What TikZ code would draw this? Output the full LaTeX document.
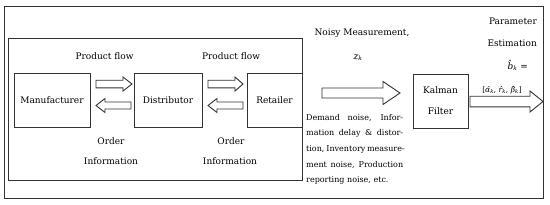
\documentclass[tikz,border=0pt]{standalone}
\usepackage{fontspec}
\setmainfont{DejaVu Serif}
\definecolor{ln}{HTML}{333333}
\newcommand\bkarrow[6]{% tail x, head-base x, tip x, centre y, shaft half, head half
  \draw[blk] (#1,#4-#5) -- (#2,#4-#5) -- (#2,#4-#6) -- (#3,#4) -- (#2,#4+#6)
    -- (#2,#4+#5) -- (#1,#4+#5) -- cycle;}
\begin{document}
\begin{tikzpicture}[x=1pt,y=-1pt,
  frame/.style={draw=ln, line width=0.9pt},
  box/.style={draw=ln, line width=0.9pt, inner sep=0pt, font=\fontsize{9}{21}\selectfont, align=center, text=black},
  blk/.style={draw=ln, line width=0.9pt, fill=white, line join=miter},
  lbl/.style={inner sep=0pt, font=\fontsize{9}{11}\selectfont, text=black},
  small/.style={inner sep=0pt, font=\fontsize{8}{9}\selectfont, text=black}]
\useasboundingbox (0,0) rectangle (550,204);
% frames
\draw[frame] (4.5,6) rectangle (543,198);
\draw[frame] (8,38) rectangle (302,180);
% boxes
\node[box, minimum width=76pt, minimum height=54pt] (man) at (52,100) {Manufacturer};
\node[box, minimum width=68pt, minimum height=54pt] (dis) at (168,100) {Distributor};
\node[box, minimum width=55pt, minimum height=54pt] (ret) at (274.5,100) {Retailer};
\node[box, minimum width=55pt, minimum height=54pt] (kal) at (440.5,101) {Kalman\\Filter};
% small flow arrows
\bkarrow{96}{123}{132}{84}{3.8}{7}
\bkarrow{131}{105}{96}{105.5}{3.5}{7}
\bkarrow{208}{235}{243}{84}{3.8}{7}
\bkarrow{243}{217}{208}{105.5}{3.5}{7}
% measurement arrow
\bkarrow{322}{383}{400}{93}{5}{11.5}
% output arrow
\bkarrow{470}{530}{543}{101.5}{5.3}{10.5}
% labels
\node[lbl, anchor=base] (pf1) at (104.5,59) {Product flow};
\node[lbl, anchor=base] (pf2) at (231,59) {Product flow};
\node[lbl, anchor=base] (o1) at (111,144) {Order};
\node[lbl, anchor=base] (i1) at (111,164) {Information};
\node[lbl, anchor=base] (o2) at (231,144) {Order};
\node[lbl, anchor=base] (i2) at (230,164) {Information};
\node[lbl, anchor=base] (nm) at (362,35) {Noisy Measurement,};
\node[lbl, anchor=base] (zk) at (358,59) {\textit{z}\textsubscript{\textit{k}}};
\node[lbl, anchor=base east] (pa) at (537,24) {Parameter};
\node[lbl, anchor=base east] (es) at (537,46) {Estimation};
\node[lbl, anchor=base east] (bk) at (528,69) {\textit{\^{b}}\textsubscript{\textit{k}} =};
\node[inner sep=0pt, font=\fontsize{7.5}{9}\selectfont, anchor=base] (vec) at (502,92) {[\textit{\^{α}}\textsubscript{\textit{k}}, \textit{\^{r}}\textsubscript{\textit{k}}, \textit{\^{β}}\textsubscript{\textit{k}}]};
% noise description
\node[small, anchor=base west] (n1) at (306,120) {\makebox[97pt][s]{Demand noise, Infor-}};
\node[small, anchor=base west] (n2) at (306,135.7) {\makebox[97pt][s]{mation delay \& distor-}};
\node[small, anchor=base west] (n3) at (306,151.4) {\makebox[97pt][s]{tion, Inventory measure-}};
\node[small, anchor=base west] (n4) at (306,167.1) {\makebox[97pt][s]{ment noise, Production}};
\node[small, anchor=base west] (n5) at (306,182.8) {reporting noise, etc.};
\end{tikzpicture}
\end{document}
